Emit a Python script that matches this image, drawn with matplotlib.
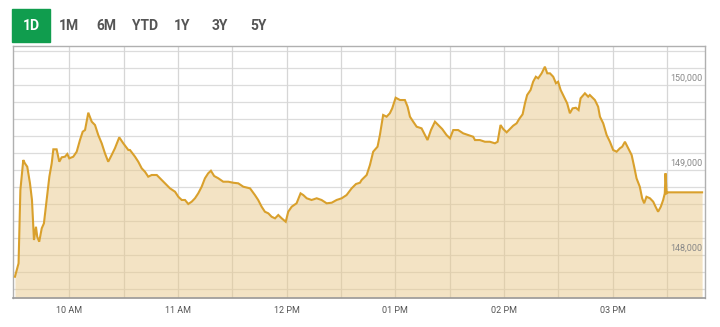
import matplotlib
matplotlib.use("Agg")
import matplotlib.pyplot as plt
import matplotlib.transforms as mtransforms
import numpy as np

plt.rcParams['font.family'] = ['Roboto', 'DejaVu Sans']

# minutes after 09:30
minutes = [0, 2, 3, 4.6, 5.5, 6.8, 8.3, 9.4, 10.5, 11.6, 12.3, 13.4, 14.8, 16.0, 17.5, 19.0, 20.3,
           21.2, 23.0, 24.5, 25.8, 27.6, 28.9, 30.0, 32.2, 34.1, 35.9, 37.4, 38.7, 40.5, 42.4,
           44.2, 46.0, 47.9, 49.7, 51.5, 53.4, 55.2, 57.6, 59.8, 62.6, 63.5, 66.3, 68.1, 70.0,
           71.8, 73.6, 75.5, 78.3, 80.1, 81.9, 83.8, 85.6, 88.4, 90.2, 92.1, 93.9, 95.7, 97.6,
           99.4, 101.2, 103.1, 104.9, 106.7, 108.2, 110.0, 112.3, 115.0, 117.8, 120.5, 123.3,
           126.1, 129.8, 132.5, 134.3, 136.2, 138.0, 139.9, 141.7, 143.6, 145.4, 147.3, 149.5,
           150.9, 152.8, 155.5, 157.7, 159.2, 161.1, 163.8, 166.6, 169.3, 172.1, 174.9, 177.6,
           180.4, 183.1, 185.9, 188.3, 190.5, 191.4, 194.2, 196.0, 197.8, 200.2, 201.5, 203.3,
           205.2, 207.0, 208.3, 210.2, 212.6, 215.3, 216.8, 218.1, 219.9, 221.8, 224.5, 226.4,
           227.8, 229.7, 231.9, 233.7, 235.9, 238.3, 240.2, 242.0, 244.7, 247.5, 250.3, 253.0,
           254.0, 256.7, 259.5, 262.2, 265.0, 266.5, 268.1, 269.6, 271.5, 273.3, 275.1, 277.0,
           278.4, 280.3, 281.6, 282.8, 284.7, 286.1, 287.6, 288.9, 290.8, 292.6, 293.9, 295.4,
           297.2, 298.7, 299.9, 301.3, 303.1, 304.9, 306.4, 307.9, 309.7, 311.2, 312.3, 314.7,
           316.5, 317.4, 320.2, 322.0, 323.0, 324.8, 326.7, 328.5, 330.3, 332.2, 334.0, 335.3,
           336.8, 338.6, 340.5, 341.9, 343.2, 345.0, 346.3, 347.4, 348.7, 350.6, 352.4, 353.7,
           355.1, 356.6, 357.9, 358.8, 359.2, 359.8, 360.7, 379.4]
prices = [147748, 147906, 148768, 149121, 149082, 149042, 148847, 148651, 148180, 148336, 148219,
          148160, 148318, 148376, 148651, 148925, 149082, 149247, 149247, 149101, 149153, 149160,
          149192, 149141, 149160, 149219, 149356, 149454, 149474, 149678, 149572, 149533, 149415,
          149318, 149200, 149101, 149180, 149259, 149388, 149318, 149239, 149239, 149160, 149101,
          149023, 148983, 148925, 148945, 148945, 148906, 148866, 148827, 148788, 148748, 148689,
          148651, 148651, 148604, 148631, 148671, 148729, 148807, 148906, 148965, 148995, 148933,
          148906, 148866, 148866, 148854, 148847, 148807, 148788, 148709, 148651, 148572, 148513,
          148494, 148454, 148435, 148474, 148435, 148395, 148513, 148572, 148612, 148729, 148709,
          148671, 148651, 148671, 148651, 148612, 148619, 148651, 148671, 148709, 148788, 148839,
          148854, 148886, 148945, 149062, 149219, 149278, 149415, 149651, 149631, 149671, 149729,
          149854, 149827, 149827, 149748, 149631, 149572, 149513, 149494, 149415, 149356, 149474,
          149572, 149533, 149486, 149415, 149376, 149474, 149474, 149435, 149415, 149395, 149356,
          149356, 149336, 149336, 149318, 149336, 149533, 149486, 149447, 149486, 149525, 149553,
          149604, 149659, 149788, 149886, 149945, 150042, 150101, 150082, 150141, 150219, 150141,
          150141, 150101, 150024, 150042, 149945, 149866, 149788, 149671, 149729, 149736, 149709,
          149847, 149906, 149866, 149886, 149827, 149748, 149631, 149553, 149415, 149336, 149239,
          149219, 149259, 149278, 149336, 149259, 149180, 149042, 148906, 148807, 148671, 148612,
          148689, 148671, 148631, 148572, 148513, 148572, 148651, 148729, 148965, 148729, 148741,
          148741]

hour_ticks = [30, 90, 150, 210, 270, 330]
hour_labels = ["10 AM", "11 AM", "12 PM", "01 PM", "02 PM", "03 PM"]
y_label_values = [148000, 149000, 150000]
y_labels = ["148,000", "149,000", "150,000"]
buttons = ["1D", "1M", "6M", "YTD", "1Y", "3Y", "5Y"]

W, H = 720, 327
fig = plt.figure(figsize=(W / 100, H / 100), dpi=100)
fig.patch.set_facecolor("white")

ax = fig.add_axes([12.5 / W, (H - 298) / H, 692.5 / W, 252.3 / H])
ax.set_xlim(-1.35, 381)
ax.set_ylim(147498, 150466)

# grid
for yv in np.arange(147600, 150401, 200):
    ax.axhline(yv, color="#dcdcdc", lw=0.9, zorder=1)
for xv in np.arange(30, 361, 30):
    ax.axvline(xv, color="#d6d6d6", lw=0.9, zorder=1)

ax.fill_between(minutes, prices, 147498, color="#e9c98a", alpha=0.5, lw=0, zorder=2)
ax.plot(minutes, prices, color="#d9a02c", lw=1.5, zorder=3, solid_joinstyle="miter")

for s in ["left", "top", "right"]:
    ax.spines[s].set_color("#b0b0b0")
    ax.spines[s].set_linewidth(1.0)
ax.spines["bottom"].set_color("#999999")
ax.spines["bottom"].set_linewidth(1.2)

ax.set_xticks(hour_ticks)
ax.set_xticklabels(hour_labels, fontsize=6.5, color="#555555")
ax.tick_params(axis="x", length=0, pad=6)
ax.set_yticks([])

for v, lab in zip(y_label_values, y_labels):
    ax.annotate(lab, xy=(1, v), xycoords=("axes fraction", "data"),
                xytext=(-2, 5.2), textcoords="offset points",
                ha="right", va="center", fontsize=6.5, color="#888888", zorder=4)

# range buttons
bx0, bx1, by0, by1 = 12, 50, 9, 41.7
fig.patches.append(plt.Rectangle((bx0 / W, 1 - by1 / H), (bx1 - bx0) / W, (by1 - by0) / H,
                                 transform=fig.transFigure, color="#109d4e", zorder=0))
btn_x = [31, 68.7, 106.7, 144.7, 182.5, 220, 258.7]
for i, (lab, cx) in enumerate(zip(buttons, btn_x)):
    fig.text(cx / W, 1 - 25.5 / H, lab, ha="center", va="center", fontsize=10,
             fontweight="bold", color="white" if i == 0 else "#555555")

fig.savefig("out.png", dpi=100, facecolor="white")
